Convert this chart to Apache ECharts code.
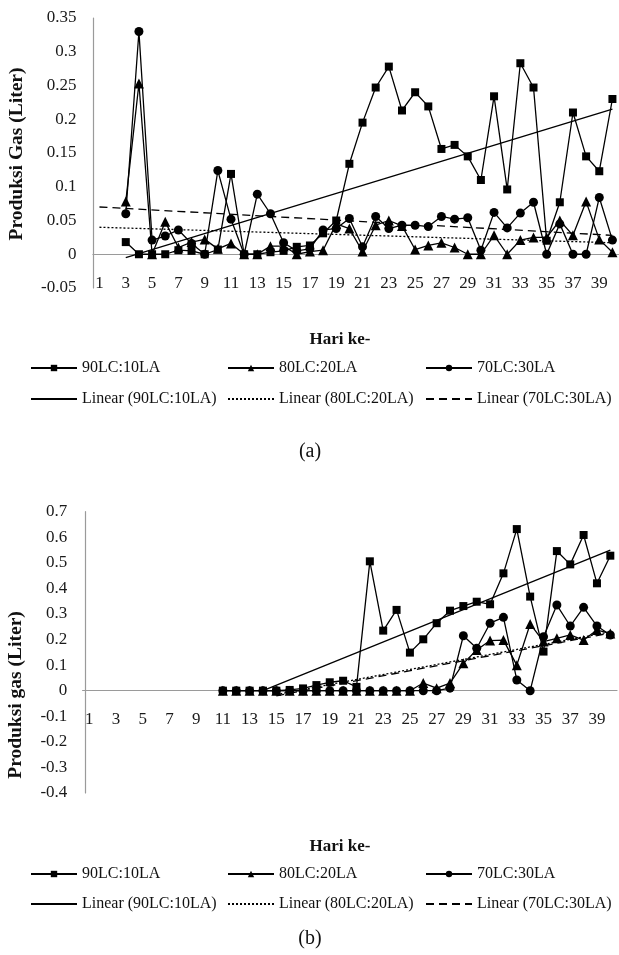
<!DOCTYPE html>
<html><head><meta charset="utf-8">
<script src="https://cdn.jsdelivr.net/npm/echarts@6/dist/echarts.min.js"></script>
<style>html,body{margin:0;padding:0;background:#fff}#c{width:619px;height:955px}</style>
</head><body><div id="c"></div>
<script>
// ---- data ----
const days = ['1','2','3','4','5','6','7','8','9','10','11','12','13','14','15','16','17','18','19','20',
              '21','22','23','24','25','26','27','28','29','30','31','32','33','34','35','36','37','38','39','40'];

// chart (a)
const a90 = [null,null,0.018,0,0,0,0.006,0.005,0,0.007,0.119,0,0,0.003,0.005,0.011,0.013,0.031,0.050,0.134,
             0.195,0.247,0.278,0.213,0.240,0.219,0.156,0.162,0.145,0.110,0.234,0.096,0.283,0.247,0.020,0.077,0.210,0.145,0.123,0.230];
const a80 = [null,null,0.078,0.253,0,0.048,0.010,0.018,0.022,0.008,0.016,0,0,0.012,0.012,0,0.004,0.006,0.045,0.038,
             0.004,0.043,0.050,0.042,0.007,0.013,0.017,0.010,0,0,0.028,0,0.021,0.025,0.025,0.050,0.028,0.078,0.022,0.003];
const a70 = [null,null,0.060,0.330,0.021,0.027,0.036,0.016,0,0.124,0.052,0,0.089,0.060,0.017,0.005,0.008,0.036,0.038,0.053,
             0.011,0.056,0.038,0.043,0.043,0.041,0.056,0.052,0.054,0.006,0.062,0.039,0.061,0.077,0,0.045,0,0,0.084,0.021];
// trendline end points: [day, value]
const a90Trend = [['3',-0.005],['40',0.215]];
const a80Trend = [['1',0.040],['40',0.017]];
const a70Trend = [['1',0.070],['40',0.028]];

// chart (b)
const b90 = [null,null,null,null,null,null,null,null,null,null,0,0,0,0,0,0.003,0.009,0.022,0.033,0.039,
             0.015,0.506,0.235,0.316,0.149,0.201,0.264,0.313,0.331,0.348,0.338,0.459,0.632,0.368,0.153,0.546,0.494,0.609,0.420,0.528];
const b80 = [null,null,null,null,null,null,null,null,null,null,0,0,0,0,0,0,0,0,0,0,
             0,0,0,0,0,0.030,0.010,0.030,0.107,0.159,0.196,0.198,0.100,0.261,0.192,0.205,0.218,0.198,0.237,0.224];
const b70 = [null,null,null,null,null,null,null,null,null,null,0,0,0,0,0,0,0,0,0,0,
             0,0,0,0,0,0,0,0.010,0.215,0.166,0.264,0.287,0.042,0,0.211,0.335,0.253,0.326,0.253,0.218];
const b90Trend = [['14',0.0],['40',0.55]];
const b80Trend = [['15',-0.015],['40',0.23]];
const b70Trend = [['15',-0.02],['40',0.225]];

const names = ['90LC:10LA','80LC:20LA','70LC:30LA','Linear (90LC:10LA)','Linear (80LC:20LA)','Linear (70LC:30LA)'];

// ---- styles ----
const FONT = 'Liberation Serif';
function dataSeries(name, data, symbol, size, gi){
  return {type:'line', name, data, symbol, symbolSize:size, showAllSymbol:true,
    xAxisIndex:gi, yAxisIndex:gi, connectNulls:false, z:3,
    lineStyle:{color:'#000', width:1.3}, itemStyle:{color:'#000'}};
}
function trendSeries(name, data, type, gi){
  return {type:'line', name, data, symbol:'none', xAxisIndex:gi, yAxisIndex:gi, z:2,
    lineStyle:{color:'#000', width:1.3, type}, itemStyle:{color:'#000'}};
}
const sym = ['rect','triangle','circle'];
const symSize = [8,10,9];
const trendType = ['solid',[2,2],[8,5]];

function xAxisCfg(gi, margin){
  return {type:'category', gridIndex:gi, data:days, boundaryGap:true,
    axisLine:{onZero:true, lineStyle:{color:'#9a9a9a', width:1.2}},
    axisTick:{show:false},
    axisLabel:{interval:1, margin, fontFamily:FONT, fontSize:17, color:'#1a1a1a'},
    splitLine:{show:false}};
}
function yAxisCfg(gi, min, max, interval, margin, offset){
  return {type:'value', gridIndex:gi, min, max, interval, offset,
    axisLine:{show:true, onZero:false, lineStyle:{color:'#9a9a9a', width:1.2}},
    axisTick:{show:false},
    axisLabel:{margin, fontFamily:FONT, fontSize:17, color:'#1a1a1a'},
    splitLine:{show:false}};
}

const series = [];
[[a90,a80,a70,a90Trend,a80Trend,a70Trend,0],[b90,b80,b70,b90Trend,b80Trend,b70Trend,1]].forEach(s=>{
  const gi = s[6];
  for(let k=0;k<3;k++) series.push(dataSeries(names[k], s[k], sym[k], symSize[k], gi));
  for(let k=0;k<3;k++) series.push(trendSeries(names[k+3], s[k+3], trendType[k], gi));
});

const legendCols = [25,222,420];
const legendRowsTop = [[355,386],[861,891]];
const legends = [];
legendRowsTop.forEach(rows=>{
  for(let r=0;r<2;r++) for(let c=0;c<3;c++){
    const lg = {data:[names[r*3+c]], left:legendCols[c], top:rows[r], itemWidth:46, itemHeight:8,
      itemGap:0, selectedMode:false, textStyle:{fontFamily:FONT, fontSize:16, color:'#111'}};
    if(r===1) lg.itemStyle = {color:'transparent', borderColor:'transparent', borderWidth:0};
    legends.push(lg);
  }
});

function txt(x,y,text,size,bold,rot){
  return {type:'text', x, y, rotation:rot||0, style:{text, fontFamily:FONT, fontSize:size,
    fontWeight:bold?'bold':'normal', fill:'#111', align:'center', verticalAlign:'middle'}};
}

const option = {
  animation:false,
  backgroundColor:'#fff',
  grid:[{left:92.9, top:18, width:530, height:270},
        {left:82.6, top:511.7, width:534.4, height:281.3}],
  xAxis:[xAxisCfg(0,-13), xAxisCfg(1,-82)],
  yAxis:[yAxisCfg(0,-0.05,0.35,0.05,16.5,0), yAxisCfg(1,-0.4,0.7,0.1,18,-2.7)],
  legend:legends,
  series,
  graphic:[
    txt(17,154,'Produksi Gas (Liter)',19.5,true,Math.PI/2),
    txt(340,340,'Hari ke-',17,true),
    txt(310,452,'(a)',20,false),
    txt(16,695,'Produksi gas (Liter)',19.5,true,Math.PI/2),
    txt(340,847,'Hari ke-',17,true),
    txt(310,939,'(b)',20,false)
  ]
};
const chart = echarts.init(document.getElementById('c'), null, {renderer:'canvas'});
chart.setOption(option);
</script></body></html>
